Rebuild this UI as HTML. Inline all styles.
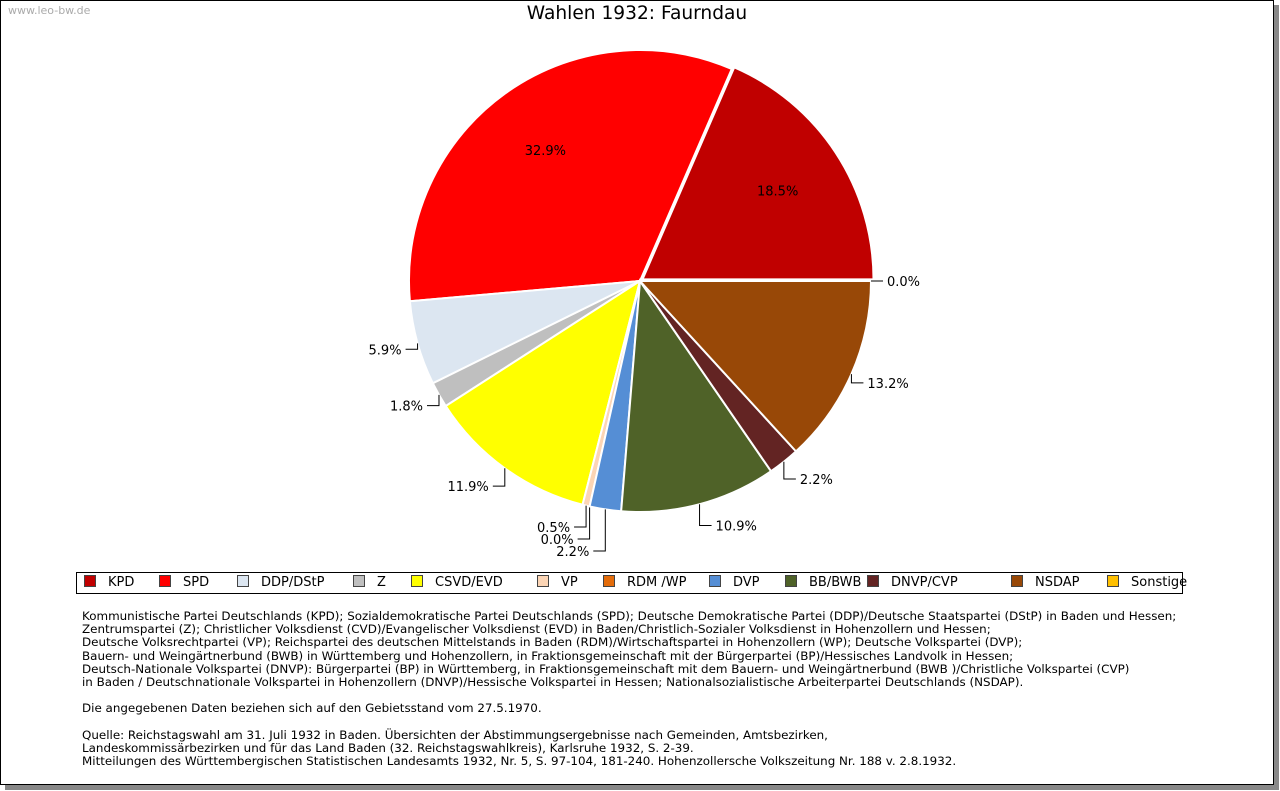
<!DOCTYPE html>
<html><head><meta charset="utf-8"><style>
body{margin:0;background:#fff;width:1280px;height:791px;overflow:hidden;position:relative;font-family:"DejaVu Sans","Liberation Sans",sans-serif}
#frame{position:absolute;left:0;top:0;width:1272px;height:783px;border:1px solid #000;box-shadow:5px 5px 0 #888;background:#fff}
.t{position:absolute;white-space:nowrap}
</style></head><body>
<div id="frame"></div>
<div class="t" style="left:8px;top:4px;font-size:11px;color:#aaa">www.leo-bw.de</div>
<div class="t" style="left:0;width:1274px;text-align:center;top:3px;font-size:18.6px;color:#000">Wahlen 1932: Faurndau</div>
<svg id="pie" width="1280" height="570" style="position:absolute;left:0;top:0"></svg>
<div id="legend" style="position:absolute;left:76px;top:572px;width:1105px;height:20px;border:1px solid #000;font-size:13px"></div>
<div class="t" style="left:82px;top:610px;font-size:11.9px;line-height:13.2px;color:#000">Kommunistische Partei Deutschlands (KPD); Sozialdemokratische Partei Deutschlands (SPD); Deutsche Demokratische Partei (DDP)/Deutsche Staatspartei (DStP) in Baden und Hessen;<br>Zentrumspartei (Z); Christlicher Volksdienst (CVD)/Evangelischer Volksdienst (EVD) in Baden/Christlich-Sozialer Volksdienst in Hohenzollern und Hessen;<br>Deutsche Volksrechtpartei (VP); Reichspartei des deutschen Mittelstands in Baden (RDM)/Wirtschaftspartei in Hohenzollern (WP); Deutsche Volkspartei (DVP);<br>Bauern- und Weingärtnerbund (BWB) in Württemberg und Hohenzollern, in Fraktionsgemeinschaft mit der Bürgerpartei (BP)/Hessisches Landvolk in Hessen;<br>Deutsch-Nationale Volkspartei (DNVP): Bürgerpartei (BP) in Württemberg, in Fraktionsgemeinschaft mit dem Bauern- und Weingärtnerbund (BWB )/Christliche Volkspartei (CVP)<br>in Baden / Deutschnationale Volkspartei in Hohenzollern (DNVP)/Hessische Volkspartei in Hessen; Nationalsozialistische Arbeiterpartei Deutschlands (NSDAP).<br><br>Die angegebenen Daten beziehen sich auf den Gebietsstand vom 27.5.1970.<br><br>Quelle: Reichstagswahl am 31. Juli 1932 in Baden. Übersichten der Abstimmungsergebnisse nach Gemeinden, Amtsbezirken,<br>Landeskommissärbezirken und für das Land Baden (32. Reichstagswahlkreis), Karlsruhe 1932, S. 2-39.<br>Mitteilungen des Württembergischen Statistischen Landesamts 1932, Nr. 5, S. 97-104, 181-240. Hohenzollersche Volkszeitung Nr. 188 v. 2.8.1932.</div>
<script>
const parties=["KPD","SPD","DDP/DStP","Z","CSVD/EVD","VP","RDM /WP","DVP","BB/BWB","DNVP/CVP","NSDAP","Sonstige"];
const shares=[18.5,32.9,5.9,1.8,11.9,0.5,0.0,2.2,10.9,2.2,13.2,0.0];
const colors=["#c00000","#ff0000","#dce6f1","#bfbfbf","#ffff00","#fcd5b5","#e46c0a","#558ed5","#4f6228","#632423","#984807","#ffc000"];
const legendX=[84,159,237,353,411,537,603,709,785,867,1011,1107];
const NS="http://www.w3.org/2000/svg";
const svg=document.getElementById('pie');
const cx=640,cy=281,R=231;
const total=shares.reduce((a,b)=>a+b,0);
function pt(a,r){return [cx+r*Math.cos(a),cy-r*Math.sin(a)];}
let a0=0;let lastY={left:-1e9,right:-1e9};
shares.forEach((v,i)=>{
  const sweep=v/total*2*Math.PI, a1=a0+sweep, mid=a0+sweep/2;
  const off=i===0?3:0; const ox=off*Math.cos(mid), oy=-off*Math.sin(mid);
  if(v>0){
    const p0=pt(a0,R),p1=pt(a1,R);
    const path=document.createElementNS(NS,'path');
    path.setAttribute('d',`M${cx+ox},${cy+oy} L${p0[0]+ox},${p0[1]+oy} A${R},${R} 0 ${sweep>Math.PI?1:0} 0 ${p1[0]+ox},${p1[1]+oy} Z`);
    path.setAttribute('fill',colors[i]);path.setAttribute('stroke','#fff');path.setAttribute('stroke-width','2');
    
    
    svg.appendChild(path);
  }
  const lab=v.toFixed(1)+'%';
  const txt=document.createElementNS(NS,'text');
  txt.setAttribute('font-size','13');txt.setAttribute('font-family','DejaVu Sans, sans-serif');
  txt.textContent=lab;
  
  
  if(v>=15){
    const p=pt(mid,R*0.7);
    txt.setAttribute('x',p[0]+ox);txt.setAttribute('y',p[1]+oy+5);txt.setAttribute('text-anchor','middle');
  }else{
    const e=pt(mid,R);const right=Math.cos(mid)>=0;
    let ly=pt(mid,R+22)[1];
    if(Math.sin(mid)<-0.9){ly=Math.max(ly,lastY[right?'right':'left']+12);}
    lastY[right?'right':'left']=ly;
    const line=document.createElementNS(NS,'polyline');
    line.setAttribute('points',`${e[0]},${e[1]} ${e[0]},${ly} ${right?e[0]+12:e[0]-12},${ly}`);
    line.setAttribute('fill','none');line.setAttribute('stroke','#000');line.setAttribute('stroke-width','1');
    
    
    svg.appendChild(line);
    txt.setAttribute('x',right?e[0]+16:e[0]-16);txt.setAttribute('y',ly+5);
    txt.setAttribute('text-anchor',right?'start':'end');
  }
  svg.appendChild(txt);
  a0=a1;
});
const leg=document.getElementById('legend');
parties.forEach((p,i)=>{
  const it=document.createElement('div');
  it.className='t';it.style.left=(legendX[i]-77)+'px';it.style.top='2px';
  
  
  it.innerHTML=`<span style="display:inline-block;width:10px;height:10px;border:1px solid #444;background:${colors[i]};vertical-align:-1px;margin-right:12px"></span>${p}`;
  leg.appendChild(it);
});
</script>
</body></html>
